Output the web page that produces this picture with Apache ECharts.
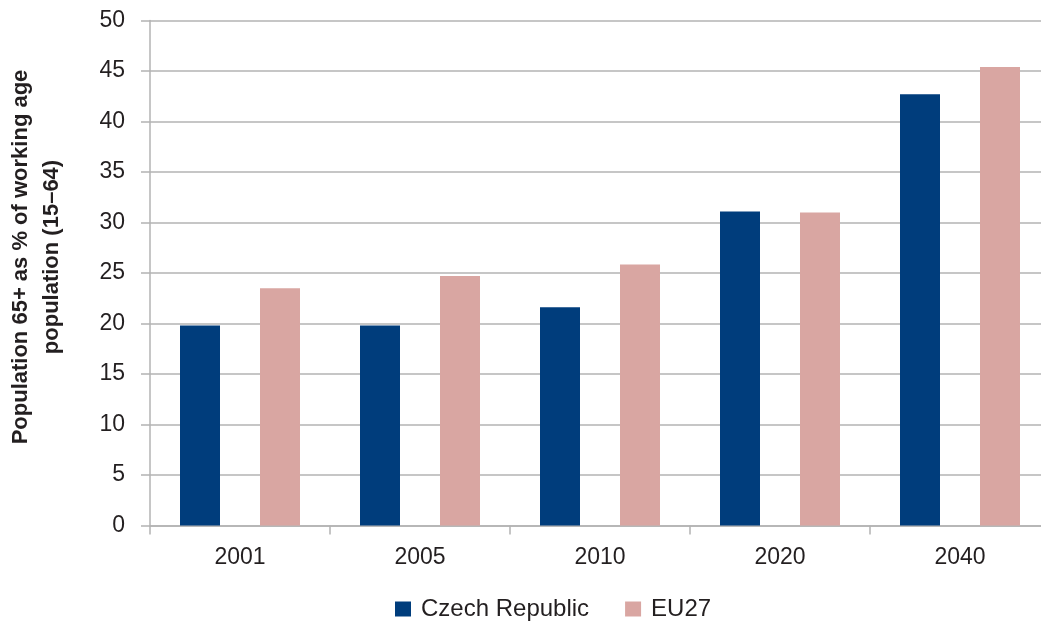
<!DOCTYPE html>
<html>
<head>
<meta charset="utf-8">
<script src="https://cdn.jsdelivr.net/npm/echarts@6/dist/echarts.min.js"></script>
<style>
  html, body { margin: 0; padding: 0; background: #ffffff; overflow: hidden; }
  /* canvas is a little wider than the window so the last category band runs past the right edge */
  #chart { width: 1050px; height: 621px; }
</style>
</head>
<body>
<div id="chart"></div>
<script>
// Old-age dependency ratio: population 65+ as % of working-age population
const years = ['2001', '2005', '2010', '2020', '2040'];
const czechRepublic = [19.8, 19.8, 21.6, 31.1, 42.7];
const eu27 = [23.5, 24.7, 25.85, 31.0, 45.4];
const yTicks = { min: 0, max: 50, interval: 5 };

const FONT = '"Liberation Sans", Arial, sans-serif';
const TEXT = '#231f20';
const GRID = '#b3b3b3';

const chart = echarts.init(document.getElementById('chart'), null, { renderer: 'canvas' });
chart.setOption({
  animation: false,
  backgroundColor: '#ffffff',
  grid: { left: 150, right: 0, top: 20.5, bottom: 95.5, containLabel: false },
  legend: {
    top: 597,
    left: 395,
    padding: 0,
    itemWidth: 16,
    itemHeight: 15,
    itemGap: 36,
    icon: 'rect',
    textStyle: { fontFamily: FONT, fontSize: 24, color: TEXT, padding: [0, 0, 0, 5] },
    data: ['Czech Republic', 'EU27']
  },
  xAxis: {
    type: 'category',
    data: years,
    axisLine: { lineStyle: { color: GRID, width: 1.5 } },
    axisTick: { show: true, length: 9, lineStyle: { color: GRID, width: 1.5 } },
    axisLabel: { fontFamily: FONT, fontSize: 23, color: TEXT, margin: 21 }
  },
  yAxis: {
    type: 'value',
    min: yTicks.min,
    max: yTicks.max,
    interval: yTicks.interval,
    axisLine: { show: true, lineStyle: { color: GRID, width: 1.5 } },
    axisTick: { show: true, length: 9, lineStyle: { color: GRID, width: 1.5 } },
    splitLine: { lineStyle: { color: GRID, width: 1.5 } },
    axisLabel: { fontFamily: FONT, fontSize: 23, color: TEXT, margin: 25 }
  },
  graphic: [{
    type: 'text',
    rotation: Math.PI / 2,
    x: 36,
    y: 257,
    style: {
      text: 'Population 65+ as % of working age\npopulation (15\u201364)',
      fontFamily: FONT,
      fontSize: 22,
      fontWeight: 'bold',
      fill: TEXT,
      align: 'center',
      verticalAlign: 'middle',
      lineHeight: 31
    }
  }],
  series: [
    {
      name: 'Czech Republic',
      type: 'bar',
      data: czechRepublic,
      barWidth: 40,
      barGap: '100%',
      itemStyle: { color: '#003d7c' }
    },
    {
      name: 'EU27',
      type: 'bar',
      data: eu27,
      barWidth: 40,
      itemStyle: { color: '#d9a6a2' }
    }
  ]
});
</script>
</body>
</html>
